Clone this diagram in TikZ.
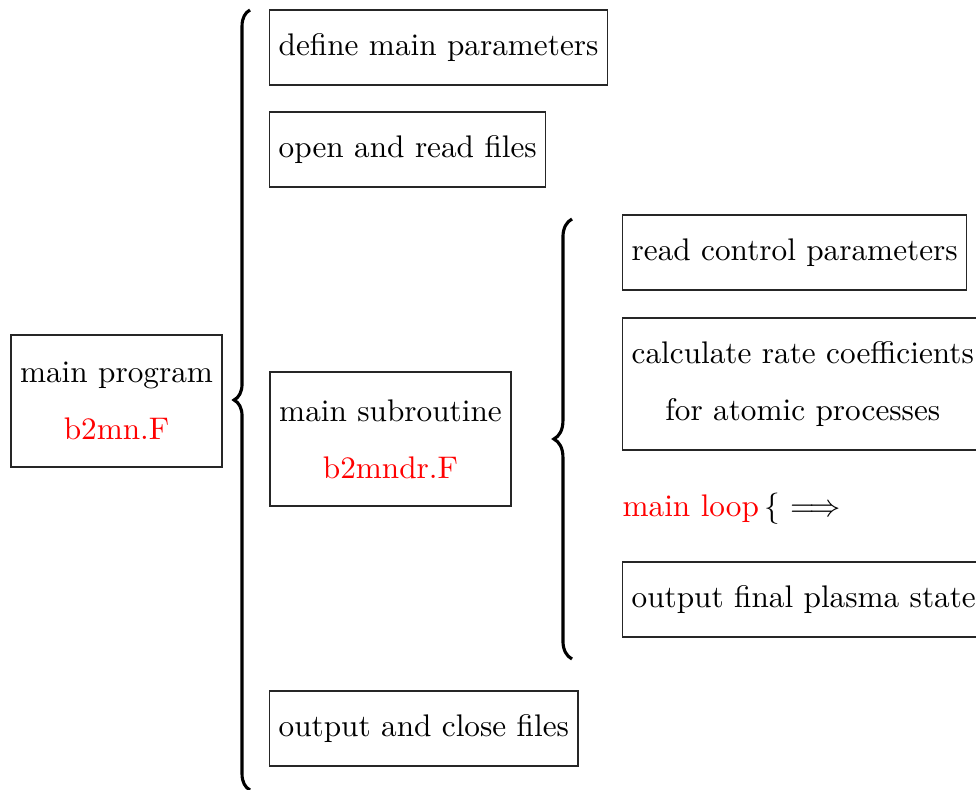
\documentclass[tikz,border=0pt]{standalone}
\usetikzlibrary{decorations.pathreplacing}
\begin{document}
\begin{tikzpicture}[x=0.32pt,y=-0.32pt,
  box/.style={draw=black!85,line width=0.4pt,rectangle,inner xsep=2.9pt,minimum height=24pt},
  twobox/.style={box,align=center,minimum height=42.24pt},
  bigbrace/.style={decorate,decoration={brace,amplitude=5.1pt},line width=1pt},
  redtxt/.style={text=red}]
\clip (0,0) rectangle (976,790);
% left column
\node[twobox,minimum width=66.9pt] (mainprog) at (116.5,401) {main program\\[6.2pt]\textcolor{red}{b2mn.F}};
% first level
\node[box,anchor=west] (define) at (269,47.5) {define main parameters};
\node[box,anchor=west] (openread) at (269,149.5) {open and read files};
\node[twobox,line width=0.9pt,minimum height=42.9pt,minimum width=77.1pt] (mainsub) at (390.5,439) {main subroutine\\[6.2pt]\textcolor{red}{b2mndr.F}};
\node[box,anchor=west] (outclose) at (269,728.5) {output and close files};
% second level
\node[box,anchor=west] (readctrl) at (622,252.5) {read control parameters};
\node[twobox,anchor=west] (calc) at (622,384) {calculate rate coefficients\\[6.5pt]for atomic processes};
\node[anchor=west,inner sep=0pt] (mainloop) at (622,509) {\textcolor{red}{main loop}\,\{ $\Longrightarrow$};
\node[box,anchor=west] (outfinal) at (622,599.5) {output final plasma state};
% braces
\coordinate (b1bot) at (250,790);
\coordinate (b1top) at (250,10);
\coordinate (b2bot) at (572,659);
\coordinate (b2top) at (572,219);
\draw[bigbrace] (b1bot) -- (b1top);
\draw[bigbrace,decoration={amplitude=5.8pt}] (b2bot) -- (b2top);
\end{tikzpicture}
\end{document}
